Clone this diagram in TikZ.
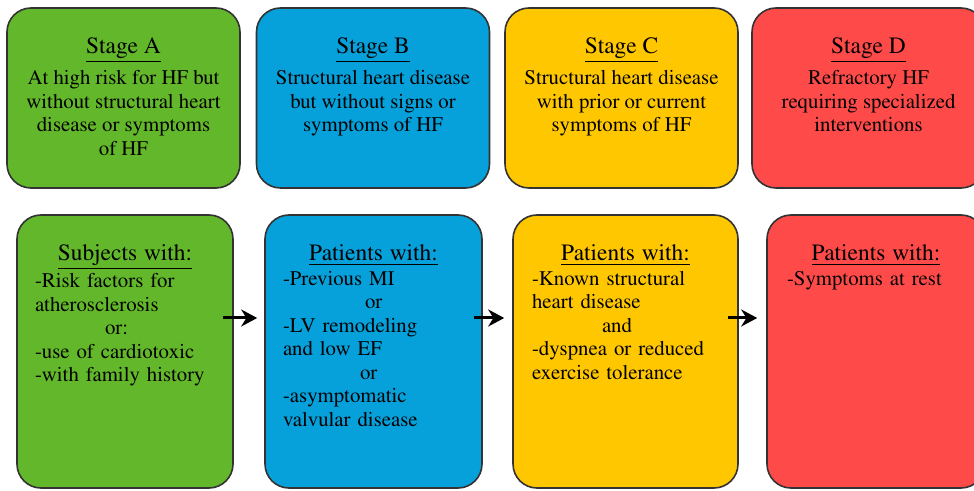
\documentclass[tikz,border=0pt]{standalone}
\usepackage[T1]{fontenc}
\usepackage{mathptmx}
\usepackage{tikz}
\usetikzlibrary{positioning, arrows.meta}

\definecolor{hfgreen}{RGB}{99,183,42}
\definecolor{hfblue}{RGB}{6,160,218}
\definecolor{hfyellow}{RGB}{255,199,0}
\definecolor{hfred}{RGB}{255,74,74}

\newcommand{\stagetitle}[1]{{\fontsize{11.7}{11.75}\selectfont\underline{#1}}}

\begin{document}
\begin{tikzpicture}[x=0.5pt, y=-0.5pt,
  box/.style={draw=black!80, line width=0.8pt, rounded corners=12pt},
  topbox/.style={box, minimum width=116.5pt, minimum height=90pt},
  lowbox/.style={box, minimum height=136.5pt},
  toptext/.style={align=center, inner sep=0pt, font=\fontsize{10.4}{11.9}\selectfont},
  lowtext/.style={align=left, inner sep=0pt, font=\fontsize{10.4}{11.75}\selectfont},
  arr/.style={-{Stealth[length=8pt, width=8.5pt]}, line width=1.5pt}
]
  \useasboundingbox (0,0) rectangle (974,491);
  \clip (0,0) rectangle (974,491);

  % Stages
  \node[topbox, fill=hfgreen] (stageA) at (123.5,98) {};
  \node[topbox, fill=hfblue] (stageB) at (373,98) {};
  \node[topbox, fill=hfyellow] (stageC) at (621.5,98) {};
  \node[topbox, fill=hfred] (stageD) at (868.5,98) {};

  \node[toptext, below=15pt of stageA.north] (stageAtxt) {\stagetitle{Stage A}\\[2.5pt]
    At high risk for HF but\\ without structural heart\\ disease or symptoms\\ of HF};
  \node[toptext, below=15pt of stageB.north] (stageBtxt) {\stagetitle{Stage B}\\[2.5pt]
    Structural heart disease\\ but without signs or\\ symptoms of HF};
  \node[toptext, below=15pt of stageC.north] (stageCtxt) {\stagetitle{Stage C}\\[2.5pt]
    Structural heart disease\\ with prior or current\\ symptoms of HF};
  \node[toptext, below=15pt of stageD.north] (stageDtxt) {\stagetitle{Stage D}\\[2.5pt]
    Refractory HF\\ requiring specialized\\ interventions};

  % Patients
  \node[lowbox, fill=hfgreen, minimum width=108pt] (subA) at (125,351.5) {};
  \node[lowbox, fill=hfblue, minimum width=108.5pt] (patB) at (373.5,351.5) {};
  \node[lowbox, fill=hfyellow, minimum width=112.5pt] (patC) at (625.5,351.5) {};
  \node[lowbox, fill=hfred, minimum width=109pt] (patD) at (876,351.5) {};

  \node[lowtext, text width=90pt, below=15pt of subA.north] (subAtxt) {%
    \makebox[\linewidth]{\stagetitle{Subjects with:}}\\[0.75pt]
    -Risk factors for\\ atherosclerosis\\ \hspace*{35pt}or:\\
    -use of cardiotoxic\\ -with family history};
  \node[lowtext, text width=90.5pt, below=15pt of patB.north] (patBtxt) {%
    \makebox[\linewidth]{\stagetitle{Patients with:}}\\[0.75pt]
    -Previous MI\\ \hspace*{41pt}or\\ -LV remodeling\\ and low EF\\
    \hspace*{38.5pt}or\\ -asymptomatic\\ valvular disease};
  \node[lowtext, text width=93.5pt, below=15pt of patC.north] (patCtxt) {%
    \makebox[\linewidth]{\stagetitle{Patients with:}}\\[0.75pt]
    -Known structural\\ heart disease\\ \hspace*{35pt}and\\
    -dyspnea or reduced\\ exercise tolerance};
  \node[lowtext, text width=89pt, below=15pt of patD.north] (patDtxt) {%
    \makebox[\linewidth]{\stagetitle{Patients with:}}\\[0.75pt]
    -Symptoms at rest};

  % Arrows
  \draw[arr] ([xshift=-5.5pt, yshift=16.75pt]subA.east) -- ([xshift=-3.5pt, yshift=16.75pt]patB.west);
  \draw[arr] ([xshift=-4.5pt, yshift=16.75pt]patB.east) -- ([xshift=-4pt, yshift=16.75pt]patC.west);
  \draw[arr] ([xshift=-5.5pt, yshift=16.75pt]patC.east) -- ([xshift=-4.5pt, yshift=16.75pt]patD.west);
\end{tikzpicture}
\end{document}
